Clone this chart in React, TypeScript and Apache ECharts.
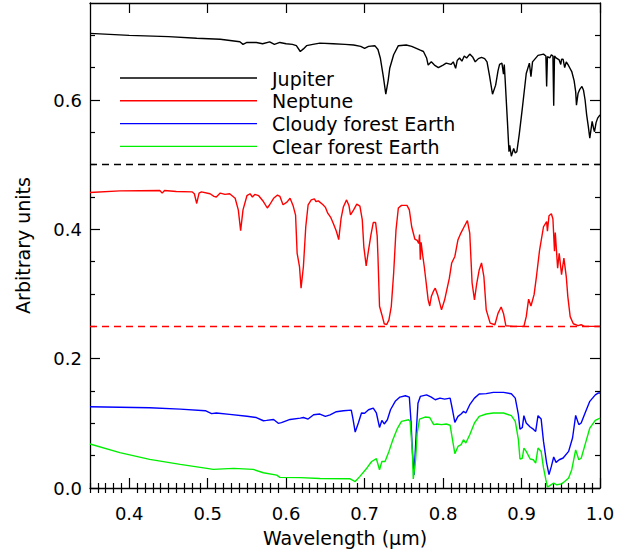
import React, { useEffect, useRef } from "react";
import * as echarts from "echarts";

// ---- Data ----
const jupiterWl = [0.350,0.400,0.450,0.486,0.516,0.541,0.545,0.550,0.562,0.570,0.579,0.585,0.592,0.600,0.608,0.613,0.618,0.622,0.626,0.634,0.643,0.660,0.675,0.686,0.695,0.700,0.705,0.713,0.717,0.720,0.724,0.727,0.730,0.732,0.737,0.743,0.753,0.760,0.771,0.775,0.779,0.781,0.785,0.789,0.794,0.800,0.804,0.810,0.813,0.816,0.818,0.821,0.824,0.827,0.830,0.834,0.838,0.841,0.845,0.849,0.853,0.856,0.859,0.863,0.867,0.870,0.872,0.875,0.877,0.878,0.879,0.882,0.884,0.885,0.887,0.890,0.892,0.894,0.897,0.901,0.906,0.910,0.912,0.914,0.921,0.928,0.931,0.932,0.933,0.936,0.938,0.940,0.941,0.942,0.944,0.948,0.950,0.951,0.953,0.955,0.957,0.960,0.964,0.967,0.969,0.970,0.972,0.974,0.977,0.979,0.981,0.983,0.985,0.987,0.990,0.992,0.993,0.995,0.997,1.000];
const jupiterVal = [0.703,0.700,0.698,0.6955,0.694,0.690,0.686,0.689,0.689,0.687,0.690,0.686,0.689,0.687,0.686,0.684,0.675,0.679,0.684,0.686,0.688,0.687,0.686,0.685,0.683,0.680,0.683,0.684,0.678,0.665,0.635,0.609,0.630,0.649,0.670,0.684,0.685,0.683,0.677,0.675,0.665,0.654,0.659,0.654,0.650,0.654,0.657,0.655,0.659,0.649,0.661,0.665,0.660,0.668,0.665,0.671,0.666,0.659,0.664,0.666,0.664,0.659,0.639,0.609,0.623,0.645,0.655,0.657,0.640,0.655,0.634,0.567,0.520,0.530,0.513,0.525,0.518,0.520,0.546,0.587,0.641,0.657,0.636,0.659,0.669,0.671,0.668,0.621,0.667,0.665,0.670,0.668,0.591,0.668,0.665,0.662,0.655,0.663,0.663,0.650,0.659,0.653,0.644,0.630,0.613,0.592,0.610,0.616,0.621,0.615,0.600,0.577,0.560,0.541,0.567,0.555,0.551,0.565,0.572,0.577];

const neptuneWl = [0.350,0.388,0.439,0.442,0.445,0.460,0.480,0.483,0.486,0.489,0.492,0.503,0.508,0.511,0.516,0.522,0.528,0.535,0.539,0.542,0.545,0.550,0.554,0.557,0.560,0.565,0.571,0.576,0.579,0.584,0.589,0.592,0.596,0.601,0.605,0.609,0.612,0.614,0.617,0.619,0.622,0.625,0.628,0.632,0.636,0.638,0.641,0.647,0.650,0.653,0.657,0.660,0.664,0.667,0.670,0.673,0.677,0.680,0.682,0.686,0.690,0.694,0.697,0.699,0.702,0.705,0.708,0.711,0.714,0.716,0.717,0.719,0.722,0.725,0.728,0.731,0.734,0.737,0.740,0.743,0.747,0.754,0.757,0.760,0.764,0.767,0.769,0.770,0.771,0.772,0.774,0.776,0.778,0.781,0.783,0.785,0.788,0.790,0.793,0.798,0.802,0.808,0.811,0.815,0.819,0.823,0.826,0.831,0.834,0.837,0.840,0.843,0.846,0.849,0.852,0.855,0.860,0.866,0.870,0.874,0.877,0.880,0.890,0.903,0.906,0.909,0.912,0.916,0.919,0.923,0.928,0.932,0.933,0.935,0.938,0.940,0.942,0.943,0.946,0.948,0.951,0.954,0.957,0.959,0.962,0.966,0.972,0.976,0.980,1.000];
const neptuneVal = [0.457,0.4595,0.460,0.456,0.460,0.4585,0.458,0.455,0.440,0.456,0.458,0.455,0.451,0.450,0.456,0.454,0.455,0.448,0.430,0.398,0.430,0.452,0.455,0.450,0.454,0.452,0.443,0.433,0.438,0.448,0.453,0.451,0.438,0.442,0.448,0.436,0.422,0.363,0.3425,0.309,0.3425,0.404,0.438,0.4455,0.447,0.443,0.444,0.438,0.434,0.425,0.418,0.4095,0.397,0.384,0.417,0.435,0.4455,0.437,0.4225,0.430,0.439,0.436,0.415,0.373,0.3435,0.368,0.391,0.4105,0.4105,0.390,0.358,0.281,0.268,0.254,0.2525,0.260,0.281,0.332,0.399,0.433,0.437,0.437,0.430,0.404,0.385,0.383,0.378,0.392,0.353,0.380,0.360,0.3425,0.322,0.291,0.2815,0.296,0.305,0.309,0.299,0.2755,0.291,0.3245,0.348,0.358,0.384,0.395,0.402,0.4135,0.394,0.317,0.291,0.317,0.337,0.348,0.327,0.2755,0.255,0.2525,0.270,0.280,0.270,0.251,0.250,0.250,0.265,0.292,0.2815,0.299,0.327,0.368,0.404,0.412,0.397,0.421,0.424,0.416,0.366,0.395,0.340,0.363,0.330,0.3555,0.327,0.296,0.265,0.254,0.251,0.2525,0.250,0.250];

const cloudyWl = [0.350,0.426,0.465,0.497,0.505,0.511,0.528,0.550,0.562,0.571,0.575,0.584,0.590,0.594,0.605,0.618,0.622,0.628,0.635,0.643,0.650,0.656,0.664,0.673,0.683,0.685,0.688,0.692,0.696,0.700,0.705,0.711,0.715,0.719,0.722,0.725,0.729,0.733,0.739,0.745,0.752,0.757,0.759,0.761,0.763,0.766,0.768,0.771,0.779,0.785,0.790,0.796,0.802,0.809,0.812,0.815,0.819,0.823,0.826,0.829,0.834,0.840,0.846,0.855,0.864,0.877,0.887,0.892,0.896,0.898,0.901,0.903,0.906,0.911,0.915,0.918,0.921,0.925,0.928,0.932,0.935,0.938,0.941,0.944,0.948,0.953,0.960,0.965,0.969,0.973,0.976,0.981,0.987,0.994,0.998,1.000];
const cloudyVal = [0.1257,0.124,0.122,0.1195,0.115,0.116,0.1138,0.111,0.109,0.104,0.1045,0.106,0.100,0.101,0.106,0.108,0.109,0.1066,0.1133,0.1144,0.1107,0.113,0.118,0.1195,0.1205,0.108,0.0865,0.1005,0.116,0.1155,0.121,0.1236,0.116,0.0937,0.1045,0.099,0.1056,0.121,0.134,0.1406,0.1427,0.1406,0.1056,0.054,0.020,0.090,0.131,0.1416,0.144,0.1406,0.1365,0.139,0.1375,0.139,0.121,0.1014,0.1107,0.1144,0.1184,0.116,0.1288,0.139,0.1453,0.146,0.1478,0.1478,0.1458,0.139,0.1133,0.091,0.0935,0.1118,0.1005,0.0943,0.091,0.0875,0.1118,0.1066,0.072,0.0386,0.0206,0.0334,0.048,0.0396,0.0437,0.0464,0.0566,0.0773,0.1122,0.098,0.1005,0.116,0.134,0.144,0.147,0.147];

const clearWl = [0.350,0.388,0.426,0.465,0.499,0.507,0.533,0.558,0.571,0.588,0.592,0.618,0.643,0.681,0.688,0.694,0.703,0.709,0.715,0.719,0.722,0.726,0.731,0.736,0.742,0.747,0.756,0.758,0.761,0.762,0.765,0.767,0.770,0.777,0.783,0.788,0.792,0.798,0.804,0.809,0.812,0.815,0.819,0.823,0.826,0.829,0.834,0.840,0.846,0.855,0.864,0.877,0.887,0.892,0.896,0.898,0.901,0.903,0.906,0.911,0.915,0.918,0.921,0.925,0.928,0.931,0.933,0.936,0.941,0.945,0.951,0.955,0.960,0.964,0.969,0.973,0.976,0.981,0.987,0.994,0.998,1.000];
const clearVal = [0.068,0.0546,0.0442,0.0365,0.0303,0.0288,0.0303,0.0288,0.0236,0.020,0.0164,0.016,0.0148,0.0144,0.010,0.018,0.031,0.041,0.0453,0.0283,0.041,0.041,0.0566,0.0747,0.0927,0.103,0.1056,0.103,0.054,0.014,0.0437,0.085,0.1066,0.1097,0.109,0.098,0.099,0.098,0.099,0.097,0.0747,0.053,0.0643,0.067,0.0747,0.0695,0.0824,0.1005,0.1107,0.1144,0.116,0.116,0.1118,0.103,0.0747,0.0448,0.046,0.0618,0.0566,0.0448,0.0437,0.0386,0.0618,0.0566,0.031,0.0128,0.0015,0.0036,0.0077,0.005,0.0064,0.010,0.0155,0.0283,0.059,0.0437,0.046,0.067,0.0927,0.1045,0.107,0.108];

const seriesNames = ["Jupiter", "Neptune", "Cloudy forest Earth", "Clear forest Earth"];
const seriesColors = ["#000000", "#ff0000", "#0000ff", "#00ee00"];
const jupiterBaseline = 0.5;
const neptuneBaseline = 0.25;

const xMajorTicks = [0.4, 0.5, 0.6, 0.7, 0.8, 0.9, 1.0];
const yMajorTicks = [0.0, 0.2, 0.4, 0.6];
const xMin = 0.35, xMax = 1.0, yMin = 0, yMax = 0.75;

const xMinorTicks: number[] = [];
for (let i = 35; i <= 100; i++) if (i % 10 !== 0) xMinorTicks.push(i / 100);
const yMinorTicks: number[] = [];
for (let i = 1; i < 15; i++) if (i % 4 !== 0) yMinorTicks.push(i * 0.05);

const zip = (a: number[], b: number[]) => a.map((x, i) => [x, b[i]]);

const FONT = "DejaVu Sans";

export default function App() {
  const ref = useRef<HTMLDivElement>(null);
  useEffect(() => {
    if (!ref.current) return;
    const chart = echarts.init(ref.current, null, { renderer: "svg" });
    const axisLine = { show: true, onZero: false, lineStyle: { color: "#000", width: 1.3 } };
    const mkX = (pos: "top" | "bottom", ticks: number[], len: number, main: boolean) => ({
      type: "value", position: pos, min: xMin, max: xMax,
      axisLine: main ? axisLine : { show: false },
      splitLine: { show: false },
      axisTick: { show: true, inside: true, length: len, customValues: ticks, lineStyle: { color: "#000", width: 1.2 } },
      axisLabel: main && pos === "bottom"
        ? { show: true, customValues: xMajorTicks, formatter: (v: number) => v.toFixed(1), margin: 16, color: "#000", fontFamily: FONT, fontSize: 18 }
        : { show: false },
      ...(main && pos === "bottom" ? {
        name: "Wavelength (\u03bcm)", nameLocation: "middle", nameGap: 40,
        nameTextStyle: { color: "#000", fontFamily: FONT, fontSize: 19 },
      } : {}),
    });
    const mkY = (pos: "left" | "right", ticks: number[], len: number, main: boolean) => ({
      type: "value", position: pos, min: yMin, max: yMax,
      axisLine: main ? axisLine : { show: false },
      splitLine: { show: false },
      axisTick: { show: true, inside: true, length: len, customValues: ticks, lineStyle: { color: "#000", width: 1.2 } },
      axisLabel: main && pos === "left"
        ? { show: true, customValues: yMajorTicks, formatter: (v: number) => v.toFixed(1), margin: 8, color: "#000", fontFamily: FONT, fontSize: 18 }
        : { show: false },
      ...(main && pos === "left" ? {
        name: "Arbitrary units", nameLocation: "middle", nameGap: 58,
        nameTextStyle: { color: "#000", fontFamily: FONT, fontSize: 19 },
      } : {}),
    });

    const datasets = [zip(jupiterWl, jupiterVal), zip(neptuneWl, neptuneVal), zip(cloudyWl, cloudyVal), zip(clearWl, clearVal)];
    const baselines = [jupiterBaseline, neptuneBaseline, null, null];

    const legendTop = 78, legendStep = 22.8;
    const graphic: any[] = [];
    seriesNames.forEach((n, i) => {
      const y = legendTop + i * legendStep;
      graphic.push({ type: "line", shape: { x1: 120, y1: y, x2: 257, y2: y }, style: { stroke: seriesColors[i], lineWidth: 1.4 } });
      graphic.push({ type: "text", x: 272, y: y + 0.5, style: { text: n, fill: "#000", font: `19px "${FONT}"`, verticalAlign: "middle", textAlign: "left" } });
    });

    chart.setOption({
      animation: false,
      backgroundColor: "#fff",
      grid: { left: 90, right: 38, top: 3, bottom: 69, containLabel: false },
      xAxis: [
        mkX("bottom", xMajorTicks, 10, true),
        mkX("bottom", xMinorTicks, 5, false),
        mkX("top", xMajorTicks, 10, true),
        mkX("top", xMinorTicks, 5, false),
      ],
      yAxis: [
        mkY("left", yMajorTicks, 10, true),
        mkY("left", yMinorTicks, 5, false),
        mkY("right", yMajorTicks, 10, true),
        mkY("right", yMinorTicks, 5, false),
      ],
      graphic,
      series: datasets.map((d, i) => ({
        name: seriesNames[i],
        type: "line",
        xAxisIndex: 0, yAxisIndex: 0,
        data: d,
        showSymbol: false, symbol: "none",
        lineStyle: { color: seriesColors[i], width: 1.4 },
        itemStyle: { color: seriesColors[i] },
        z: 3,
        markLine: baselines[i] == null ? undefined : {
          silent: true, symbol: ["none", "none"], label: { show: false },
          lineStyle: { color: seriesColors[i], type: [7, 5], width: 1.3 },
          data: [{ yAxis: baselines[i] }],
        },
      })),
    });
    return () => chart.dispose();
  }, []);
  return <div ref={ref} style={{ position: "absolute", left: 0, top: 0, width: 638, height: 557 }} />;
}
